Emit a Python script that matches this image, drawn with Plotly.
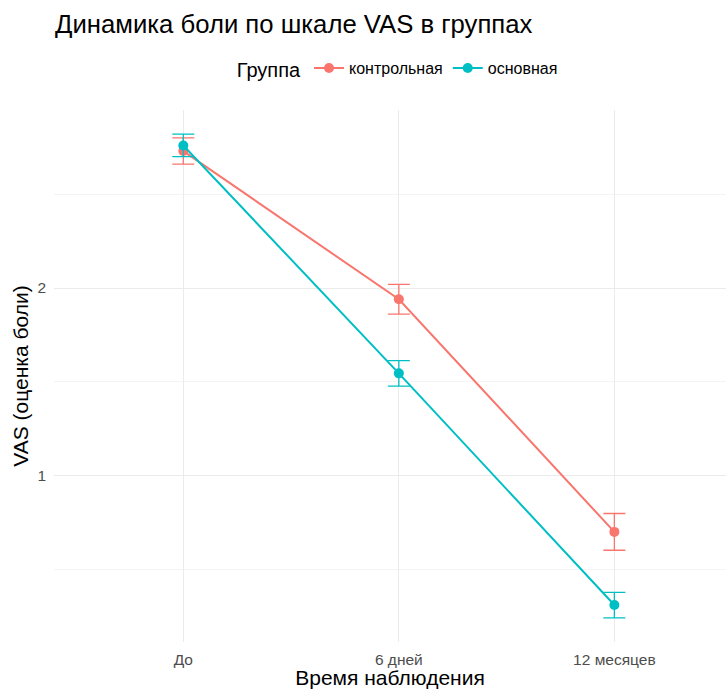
import plotly.graph_objects as go

# Observation time points
timepoints = ["До", "6 дней", "12 месяцев"]

# Mean VAS scores and error half-widths per group
control_mean = [2.73, 1.94, 0.70]
control_err = [0.07, 0.079, 0.098]
main_mean = [2.76, 1.545, 0.31]
main_err = [0.06, 0.068, 0.068]

groups = [
    ("контрольная", control_mean, control_err, "#F8766D"),
    ("основная", main_mean, main_err, "#00BFC4"),
]

fig = go.Figure()
for name, mean, err, color in groups:
    fig.add_trace(go.Scatter(
        x=timepoints, y=mean, name=name, mode="lines+markers",
        line=dict(color=color, width=2),
        marker=dict(color=color, size=10),
        error_y=dict(type="data", array=err, visible=True,
                     color=color, thickness=1.3, width=11),
    ))

font_family = "Liberation Sans, Arial, sans-serif"

fig.update_layout(
    width=726, height=689,
    margin=dict(l=54, r=0, t=110, b=47),
    paper_bgcolor="white", plot_bgcolor="white",
    font=dict(family=font_family, color="black"),
    title=dict(text="Динамика боли по шкале VAS в группах",
               x=55 / 726, xanchor="left", xref="container",
               y=1 - 24 / 689, yref="container", yanchor="middle",
               font=dict(size=25.7, color="black")),
    legend=dict(orientation="h", x=0.513, xanchor="center",
                y=1.077, yanchor="middle",
                title=dict(text="Группа", font=dict(size=20)),
                font=dict(size=16), itemwidth=30),
    showlegend=True,
)

fig.update_xaxes(
    type="category", range=[-0.6, 2.518],
    showgrid=True, gridcolor="#EBEBEB", gridwidth=1,
    zeroline=False, showline=False, ticks="",
    ticklabelstandoff=6,
    tickfont=dict(size=15.5, color="#4D4D4D"),
    title=dict(text="Время наблюдения", font=dict(size=21), standoff=1),
)
fig.update_yaxes(
    range=[0.113, 2.949], tick0=0, dtick=1,
    showgrid=True, gridcolor="#EBEBEB", gridwidth=1,
    minor=dict(dtick=0.5, tick0=0, showgrid=True,
               gridcolor="#F4F4F4", gridwidth=1),
    zeroline=False, showline=False, ticks="",
    ticklabelstandoff=7,
    tickfont=dict(size=15.5, color="#4D4D4D"),
    title=dict(text="VAS (оценка боли)", font=dict(size=21), standoff=3),
)

fig.write_html("out.html")
